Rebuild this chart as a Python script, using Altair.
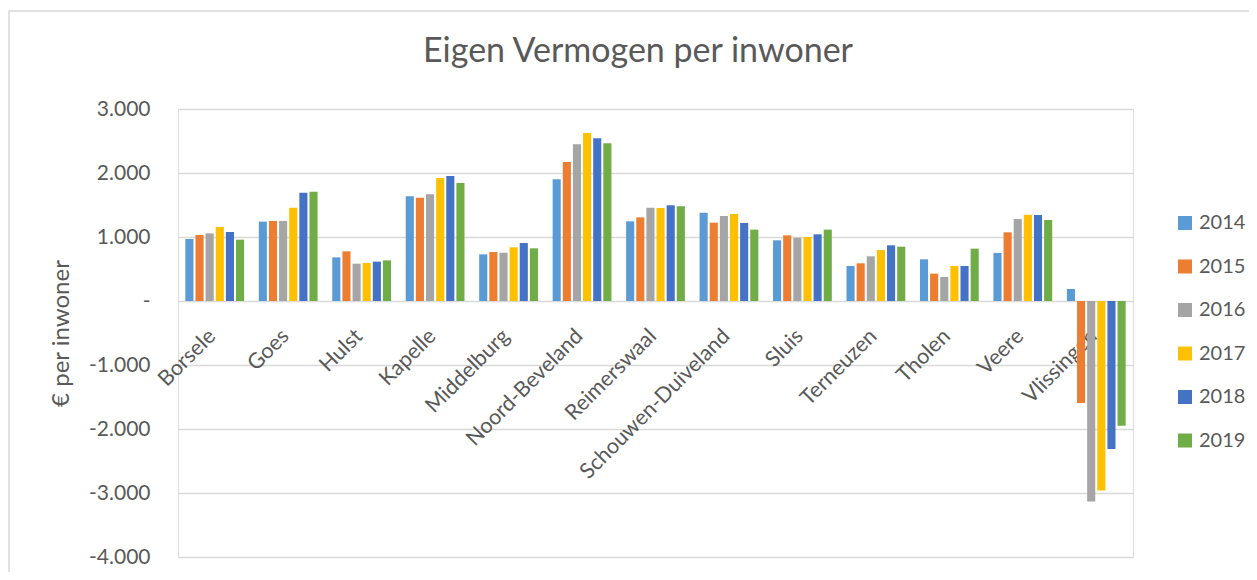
import altair as alt
import pandas as pd

municipalities = ["Borsele", "Goes", "Hulst", "Kapelle", "Middelburg", "Noord-Beveland",
                  "Reimerswaal", "Schouwen-Duiveland", "Sluis", "Terneuzen", "Tholen",
                  "Veere", "Vlissingen"]
years = ["2014", "2015", "2016", "2017", "2018", "2019"]
v2014 = [969, 1240, 682, 1635, 729, 1901, 1245, 1380, 948, 547, 651, 750, 188]
v2015 = [1031, 1250, 776, 1615, 766, 2172, 1307, 1224, 1026, 589, 427, 1073, -1593]
v2016 = [1057, 1250, 583, 1667, 755, 2448, 1458, 1328, 990, 698, 375, 1281, -3133]
v2017 = [1156, 1458, 594, 1922, 839, 2625, 1453, 1359, 1000, 797, 547, 1349, -2961]
v2018 = [1078, 1693, 615, 1953, 906, 2542, 1495, 1219, 1042, 870, 547, 1344, -2313]
v2019 = [958, 1708, 635, 1844, 823, 2464, 1479, 1115, 1115, 849, 818, 1266, -1948]
colors = ["#5B9BD5", "#ED7D31", "#A5A5A5", "#FFC000", "#4472C4", "#70AD47"]
title_text = "Eigen Vermogen per inwoner"

series = [v2014, v2015, v2016, v2017, v2018, v2019]
rows = []
for y, vals in zip(years, series):
    for m, v in zip(municipalities, vals):
        rows.append({"gemeente": m, "jaar": y, "waarde": v})
df = pd.DataFrame(rows)

FONT = "Lato"
TXT = "#595959"

W, H = 955, 448

bars = alt.Chart(df).mark_bar().encode(
    x=alt.X("gemeente:N", sort=municipalities,
            scale=alt.Scale(paddingInner=0.2, paddingOuter=0.1),
            axis=alt.Axis(title=None, labelAngle=315, labelAlign="right",
                          labelBaseline="top", labelPadding=24, labelOffset=-10,
                          offset=-256, labelLimit=0,
                          domain=False, ticks=False, grid=False,
                          labelFontSize=21.5, labelColor=TXT, labelFont=FONT)),
    xOffset=alt.XOffset("jaar:N", sort=years, scale=alt.Scale(paddingInner=0.2)),
    y=alt.Y("waarde:Q",
            scale=alt.Scale(domain=[-4000, 3000], nice=False),
            axis=alt.Axis(values=[-4000, -3000, -2000, -1000, 0, 1000, 2000, 3000],
                          labelExpr="datum.value == 0 ? '-' : (datum.value < 0 ? '-' : '') + replace(format(abs(datum.value), ','), ',', '.')",
                          title="€ per inwoner", titleFontSize=24, titleFontWeight="normal",
                          titleColor=TXT, titleFont=FONT, titleX=-117, titleY=H / 2,
                          titleBaseline="middle", titleAngle=270,
                          domain=False, ticks=False, labelPadding=28,
                          labelFontSize=21, labelColor=TXT, labelFont=FONT,
                          gridColor="#D9D9D9", gridWidth=1.5)),
    color=alt.Color("jaar:N", sort=years,
                    scale=alt.Scale(domain=years, range=colors),
                    legend=alt.Legend(title=None, orient="none", legendX=997, legendY=104,
                                      symbolType="square", symbolSize=196,
                                      symbolStrokeWidth=0,
                                      labelFontSize=20, labelColor=TXT, labelFont=FONT,
                                      rowPadding=23.5, labelOffset=4)),
)

frame = alt.Chart(pd.DataFrame({"a": [0]})).mark_rect(
    filled=False, stroke="#D9D9D9", strokeWidth=1.5).encode(
    x=alt.value(-169), x2=alt.value(1100), y=alt.value(-98), y2=alt.value(490))

title = alt.Chart(pd.DataFrame({"t": [title_text]})).mark_text(
    font=FONT, fontSize=34, color=TXT, align="center", baseline="alphabetic").encode(
    text="t:N", x=alt.value(460), y=alt.value(-47))

chart = alt.layer(frame, bars, title).properties(
    width=W, height=H,
    autosize=alt.AutoSizeParams(type="none"),
    padding={"left": 170, "top": 101, "right": 116, "bottom": 15},
).configure_view(stroke=None).configure(background="white")

chart.save("out.html", embed_options={"renderer": "svg", "actions": False})
